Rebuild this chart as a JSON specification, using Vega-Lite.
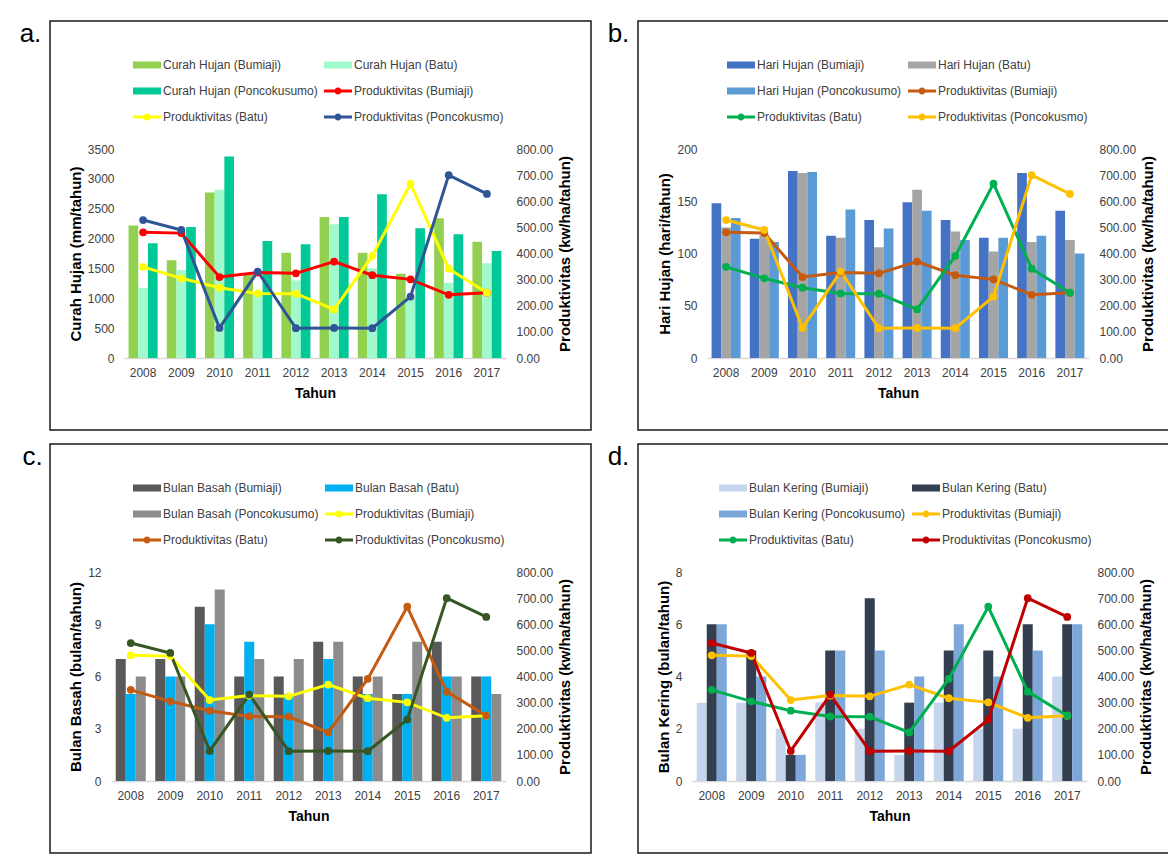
{
  "$schema": "https://vega.github.io/schema/vega-lite/v6.json",
  "padding": {"left": 18, "top": 20, "right": 0, "bottom": 0},
  "background": "#ffffff",
  "config": {
    "font": "Liberation Sans",
    "view": {"stroke": "#1a1a1a", "strokeWidth": 1.5},
    "axis": {"grid": false, "ticks": false, "domain": false, "labelFontSize": 12, "labelColor": "#404040", "titleFontWeight": "bold", "titleColor": "#000000", "labelFont": "Liberation Sans", "titleFont": "Liberation Sans"},
    "legend": {"orient": "none", "direction": "horizontal", "columns": 2, "labelFontSize": 12, "labelColor": "#404040", "symbolSize": 784, "columnPadding": 6, "rowPadding": 6, "labelOffset": 2, "padding": 0, "symbolStrokeWidth": 0},
    "title": {"font": "Liberation Sans", "fontSize": 26, "fontWeight": "normal", "color": "#000000"}
  },
  "datasets": {
    "prod": [
      {"Tahun": "2008", "Seri": "Produktivitas (Bumiaji)", "Nilai": 481},
      {"Tahun": "2009", "Seri": "Produktivitas (Bumiaji)", "Nilai": 478},
      {"Tahun": "2010", "Seri": "Produktivitas (Bumiaji)", "Nilai": 310},
      {"Tahun": "2011", "Seri": "Produktivitas (Bumiaji)", "Nilai": 327},
      {"Tahun": "2012", "Seri": "Produktivitas (Bumiaji)", "Nilai": 324},
      {"Tahun": "2013", "Seri": "Produktivitas (Bumiaji)", "Nilai": 369},
      {"Tahun": "2014", "Seri": "Produktivitas (Bumiaji)", "Nilai": 317},
      {"Tahun": "2015", "Seri": "Produktivitas (Bumiaji)", "Nilai": 301},
      {"Tahun": "2016", "Seri": "Produktivitas (Bumiaji)", "Nilai": 242},
      {"Tahun": "2017", "Seri": "Produktivitas (Bumiaji)", "Nilai": 250},
      {"Tahun": "2008", "Seri": "Produktivitas (Batu)", "Nilai": 349},
      {"Tahun": "2009", "Seri": "Produktivitas (Batu)", "Nilai": 305},
      {"Tahun": "2010", "Seri": "Produktivitas (Batu)", "Nilai": 269},
      {"Tahun": "2011", "Seri": "Produktivitas (Batu)", "Nilai": 247},
      {"Tahun": "2012", "Seri": "Produktivitas (Batu)", "Nilai": 246},
      {"Tahun": "2013", "Seri": "Produktivitas (Batu)", "Nilai": 186},
      {"Tahun": "2014", "Seri": "Produktivitas (Batu)", "Nilai": 391},
      {"Tahun": "2015", "Seri": "Produktivitas (Batu)", "Nilai": 667},
      {"Tahun": "2016", "Seri": "Produktivitas (Batu)", "Nilai": 342},
      {"Tahun": "2017", "Seri": "Produktivitas (Batu)", "Nilai": 250},
      {"Tahun": "2008", "Seri": "Produktivitas (Poncokusmo)", "Nilai": 528},
      {"Tahun": "2009", "Seri": "Produktivitas (Poncokusmo)", "Nilai": 490},
      {"Tahun": "2010", "Seri": "Produktivitas (Poncokusmo)", "Nilai": 115},
      {"Tahun": "2011", "Seri": "Produktivitas (Poncokusmo)", "Nilai": 331},
      {"Tahun": "2012", "Seri": "Produktivitas (Poncokusmo)", "Nilai": 114},
      {"Tahun": "2013", "Seri": "Produktivitas (Poncokusmo)", "Nilai": 115},
      {"Tahun": "2014", "Seri": "Produktivitas (Poncokusmo)", "Nilai": 114},
      {"Tahun": "2015", "Seri": "Produktivitas (Poncokusmo)", "Nilai": 235},
      {"Tahun": "2016", "Seri": "Produktivitas (Poncokusmo)", "Nilai": 700},
      {"Tahun": "2017", "Seri": "Produktivitas (Poncokusmo)", "Nilai": 628}
    ],
    "curah": [
      {"Tahun": "2008", "Seri": "Curah Hujan (Bumiaji)", "Nilai": 2217},
      {"Tahun": "2009", "Seri": "Curah Hujan (Bumiaji)", "Nilai": 1635},
      {"Tahun": "2010", "Seri": "Curah Hujan (Bumiaji)", "Nilai": 2772},
      {"Tahun": "2011", "Seri": "Curah Hujan (Bumiaji)", "Nilai": 1400},
      {"Tahun": "2012", "Seri": "Curah Hujan (Bumiaji)", "Nilai": 1764},
      {"Tahun": "2013", "Seri": "Curah Hujan (Bumiaji)", "Nilai": 2363},
      {"Tahun": "2014", "Seri": "Curah Hujan (Bumiaji)", "Nilai": 1764},
      {"Tahun": "2015", "Seri": "Curah Hujan (Bumiaji)", "Nilai": 1411},
      {"Tahun": "2016", "Seri": "Curah Hujan (Bumiaji)", "Nilai": 2340},
      {"Tahun": "2017", "Seri": "Curah Hujan (Bumiaji)", "Nilai": 1948},
      {"Tahun": "2008", "Seri": "Curah Hujan (Batu)", "Nilai": 1176},
      {"Tahun": "2009", "Seri": "Curah Hujan (Batu)", "Nilai": 1473},
      {"Tahun": "2010", "Seri": "Curah Hujan (Batu)", "Nilai": 2816},
      {"Tahun": "2011", "Seri": "Curah Hujan (Batu)", "Nilai": 1100},
      {"Tahun": "2012", "Seri": "Curah Hujan (Batu)", "Nilai": 1300},
      {"Tahun": "2013", "Seri": "Curah Hujan (Batu)", "Nilai": 2240},
      {"Tahun": "2014", "Seri": "Curah Hujan (Batu)", "Nilai": 1500},
      {"Tahun": "2015", "Seri": "Curah Hujan (Batu)", "Nilai": 1000},
      {"Tahun": "2016", "Seri": "Curah Hujan (Batu)", "Nilai": 1260},
      {"Tahun": "2017", "Seri": "Curah Hujan (Batu)", "Nilai": 1585},
      {"Tahun": "2008", "Seri": "Curah Hujan (Poncokusumo)", "Nilai": 1920},
      {"Tahun": "2009", "Seri": "Curah Hujan (Poncokusumo)", "Nilai": 2195},
      {"Tahun": "2010", "Seri": "Curah Hujan (Poncokusumo)", "Nilai": 3376},
      {"Tahun": "2011", "Seri": "Curah Hujan (Poncokusumo)", "Nilai": 1960},
      {"Tahun": "2012", "Seri": "Curah Hujan (Poncokusumo)", "Nilai": 1904},
      {"Tahun": "2013", "Seri": "Curah Hujan (Poncokusumo)", "Nilai": 2363},
      {"Tahun": "2014", "Seri": "Curah Hujan (Poncokusumo)", "Nilai": 2744},
      {"Tahun": "2015", "Seri": "Curah Hujan (Poncokusumo)", "Nilai": 2172},
      {"Tahun": "2016", "Seri": "Curah Hujan (Poncokusumo)", "Nilai": 2072},
      {"Tahun": "2017", "Seri": "Curah Hujan (Poncokusumo)", "Nilai": 1792}
    ],
    "hari": [
      {"Tahun": "2008", "Seri": "Hari Hujan (Bumiaji)", "Nilai": 148},
      {"Tahun": "2009", "Seri": "Hari Hujan (Bumiaji)", "Nilai": 114},
      {"Tahun": "2010", "Seri": "Hari Hujan (Bumiaji)", "Nilai": 179},
      {"Tahun": "2011", "Seri": "Hari Hujan (Bumiaji)", "Nilai": 117},
      {"Tahun": "2012", "Seri": "Hari Hujan (Bumiaji)", "Nilai": 132},
      {"Tahun": "2013", "Seri": "Hari Hujan (Bumiaji)", "Nilai": 149},
      {"Tahun": "2014", "Seri": "Hari Hujan (Bumiaji)", "Nilai": 132},
      {"Tahun": "2015", "Seri": "Hari Hujan (Bumiaji)", "Nilai": 115},
      {"Tahun": "2016", "Seri": "Hari Hujan (Bumiaji)", "Nilai": 177},
      {"Tahun": "2017", "Seri": "Hari Hujan (Bumiaji)", "Nilai": 141},
      {"Tahun": "2008", "Seri": "Hari Hujan (Batu)", "Nilai": 125},
      {"Tahun": "2009", "Seri": "Hari Hujan (Batu)", "Nilai": 118},
      {"Tahun": "2010", "Seri": "Hari Hujan (Batu)", "Nilai": 177},
      {"Tahun": "2011", "Seri": "Hari Hujan (Batu)", "Nilai": 115},
      {"Tahun": "2012", "Seri": "Hari Hujan (Batu)", "Nilai": 106},
      {"Tahun": "2013", "Seri": "Hari Hujan (Batu)", "Nilai": 161},
      {"Tahun": "2014", "Seri": "Hari Hujan (Batu)", "Nilai": 121},
      {"Tahun": "2015", "Seri": "Hari Hujan (Batu)", "Nilai": 102},
      {"Tahun": "2016", "Seri": "Hari Hujan (Batu)", "Nilai": 111},
      {"Tahun": "2017", "Seri": "Hari Hujan (Batu)", "Nilai": 113},
      {"Tahun": "2008", "Seri": "Hari Hujan (Poncokusumo)", "Nilai": 134},
      {"Tahun": "2009", "Seri": "Hari Hujan (Poncokusumo)", "Nilai": 111},
      {"Tahun": "2010", "Seri": "Hari Hujan (Poncokusumo)", "Nilai": 178},
      {"Tahun": "2011", "Seri": "Hari Hujan (Poncokusumo)", "Nilai": 142},
      {"Tahun": "2012", "Seri": "Hari Hujan (Poncokusumo)", "Nilai": 124},
      {"Tahun": "2013", "Seri": "Hari Hujan (Poncokusumo)", "Nilai": 141},
      {"Tahun": "2014", "Seri": "Hari Hujan (Poncokusumo)", "Nilai": 113},
      {"Tahun": "2015", "Seri": "Hari Hujan (Poncokusumo)", "Nilai": 115},
      {"Tahun": "2016", "Seri": "Hari Hujan (Poncokusumo)", "Nilai": 117},
      {"Tahun": "2017", "Seri": "Hari Hujan (Poncokusumo)", "Nilai": 100}
    ],
    "basah": [
      {"Tahun": "2008", "Seri": "Bulan Basah (Bumiaji)", "Nilai": 7},
      {"Tahun": "2009", "Seri": "Bulan Basah (Bumiaji)", "Nilai": 7},
      {"Tahun": "2010", "Seri": "Bulan Basah (Bumiaji)", "Nilai": 10},
      {"Tahun": "2011", "Seri": "Bulan Basah (Bumiaji)", "Nilai": 6},
      {"Tahun": "2012", "Seri": "Bulan Basah (Bumiaji)", "Nilai": 6},
      {"Tahun": "2013", "Seri": "Bulan Basah (Bumiaji)", "Nilai": 8},
      {"Tahun": "2014", "Seri": "Bulan Basah (Bumiaji)", "Nilai": 6},
      {"Tahun": "2015", "Seri": "Bulan Basah (Bumiaji)", "Nilai": 5},
      {"Tahun": "2016", "Seri": "Bulan Basah (Bumiaji)", "Nilai": 8},
      {"Tahun": "2017", "Seri": "Bulan Basah (Bumiaji)", "Nilai": 6},
      {"Tahun": "2008", "Seri": "Bulan Basah (Batu)", "Nilai": 5},
      {"Tahun": "2009", "Seri": "Bulan Basah (Batu)", "Nilai": 6},
      {"Tahun": "2010", "Seri": "Bulan Basah (Batu)", "Nilai": 9},
      {"Tahun": "2011", "Seri": "Bulan Basah (Batu)", "Nilai": 8},
      {"Tahun": "2012", "Seri": "Bulan Basah (Batu)", "Nilai": 5},
      {"Tahun": "2013", "Seri": "Bulan Basah (Batu)", "Nilai": 7},
      {"Tahun": "2014", "Seri": "Bulan Basah (Batu)", "Nilai": 5},
      {"Tahun": "2015", "Seri": "Bulan Basah (Batu)", "Nilai": 5},
      {"Tahun": "2016", "Seri": "Bulan Basah (Batu)", "Nilai": 6},
      {"Tahun": "2017", "Seri": "Bulan Basah (Batu)", "Nilai": 6},
      {"Tahun": "2008", "Seri": "Bulan Basah (Poncokusumo)", "Nilai": 6},
      {"Tahun": "2009", "Seri": "Bulan Basah (Poncokusumo)", "Nilai": 6},
      {"Tahun": "2010", "Seri": "Bulan Basah (Poncokusumo)", "Nilai": 11},
      {"Tahun": "2011", "Seri": "Bulan Basah (Poncokusumo)", "Nilai": 7},
      {"Tahun": "2012", "Seri": "Bulan Basah (Poncokusumo)", "Nilai": 7},
      {"Tahun": "2013", "Seri": "Bulan Basah (Poncokusumo)", "Nilai": 8},
      {"Tahun": "2014", "Seri": "Bulan Basah (Poncokusumo)", "Nilai": 6},
      {"Tahun": "2015", "Seri": "Bulan Basah (Poncokusumo)", "Nilai": 8},
      {"Tahun": "2016", "Seri": "Bulan Basah (Poncokusumo)", "Nilai": 6},
      {"Tahun": "2017", "Seri": "Bulan Basah (Poncokusumo)", "Nilai": 5}
    ],
    "kering": [
      {"Tahun": "2008", "Seri": "Bulan Kering (Bumiaji)", "Nilai": 3},
      {"Tahun": "2009", "Seri": "Bulan Kering (Bumiaji)", "Nilai": 3},
      {"Tahun": "2010", "Seri": "Bulan Kering (Bumiaji)", "Nilai": 2},
      {"Tahun": "2011", "Seri": "Bulan Kering (Bumiaji)", "Nilai": 3},
      {"Tahun": "2012", "Seri": "Bulan Kering (Bumiaji)", "Nilai": 2},
      {"Tahun": "2013", "Seri": "Bulan Kering (Bumiaji)", "Nilai": 1},
      {"Tahun": "2014", "Seri": "Bulan Kering (Bumiaji)", "Nilai": 3},
      {"Tahun": "2015", "Seri": "Bulan Kering (Bumiaji)", "Nilai": 2},
      {"Tahun": "2016", "Seri": "Bulan Kering (Bumiaji)", "Nilai": 2},
      {"Tahun": "2017", "Seri": "Bulan Kering (Bumiaji)", "Nilai": 4},
      {"Tahun": "2008", "Seri": "Bulan Kering (Batu)", "Nilai": 6},
      {"Tahun": "2009", "Seri": "Bulan Kering (Batu)", "Nilai": 5},
      {"Tahun": "2010", "Seri": "Bulan Kering (Batu)", "Nilai": 1},
      {"Tahun": "2011", "Seri": "Bulan Kering (Batu)", "Nilai": 5},
      {"Tahun": "2012", "Seri": "Bulan Kering (Batu)", "Nilai": 7},
      {"Tahun": "2013", "Seri": "Bulan Kering (Batu)", "Nilai": 3},
      {"Tahun": "2014", "Seri": "Bulan Kering (Batu)", "Nilai": 5},
      {"Tahun": "2015", "Seri": "Bulan Kering (Batu)", "Nilai": 5},
      {"Tahun": "2016", "Seri": "Bulan Kering (Batu)", "Nilai": 6},
      {"Tahun": "2017", "Seri": "Bulan Kering (Batu)", "Nilai": 6},
      {"Tahun": "2008", "Seri": "Bulan Kering (Poncokusumo)", "Nilai": 6},
      {"Tahun": "2009", "Seri": "Bulan Kering (Poncokusumo)", "Nilai": 4},
      {"Tahun": "2010", "Seri": "Bulan Kering (Poncokusumo)", "Nilai": 1},
      {"Tahun": "2011", "Seri": "Bulan Kering (Poncokusumo)", "Nilai": 5},
      {"Tahun": "2012", "Seri": "Bulan Kering (Poncokusumo)", "Nilai": 5},
      {"Tahun": "2013", "Seri": "Bulan Kering (Poncokusumo)", "Nilai": 4},
      {"Tahun": "2014", "Seri": "Bulan Kering (Poncokusumo)", "Nilai": 6},
      {"Tahun": "2015", "Seri": "Bulan Kering (Poncokusumo)", "Nilai": 4},
      {"Tahun": "2016", "Seri": "Bulan Kering (Poncokusumo)", "Nilai": 5},
      {"Tahun": "2017", "Seri": "Bulan Kering (Poncokusumo)", "Nilai": 6}
    ]
  },
  "columns": 2,
  "spacing": {"row": 12, "column": 14},
  "resolve": {"scale": {"color": "independent", "x": "independent", "y": "independent", "xOffset": "independent"}, "legend": {"color": "independent"}},
  "concat": [
    {
      "title": {"text": "a.", "orient": "left", "anchor": "end", "angle": 0, "align": "right", "baseline": "top", "offset": -13},
      "width": 541, "height": 409,
      "layer": [
        {
          "data": {"name": "curah"},
          "mark": {"type": "bar"},
          "encoding": {
            "x": {"field": "Tahun", "type": "nominal", "scale": {"range": [74, 456], "paddingInner": 0.24, "paddingOuter": 0.12}, "axis": {"orient": "bottom", "offset": -72, "domain": true, "domainColor": "#D9D9D9", "domainWidth": 1.5, "labelAngle": 0, "labelPadding": 9, "title": "Tahun", "titleFontSize": 14, "titlePadding": 8}},
            "xOffset": {"field": "Seri", "type": "nominal", "scale": {"domain": ["Curah Hujan (Bumiaji)", "Curah Hujan (Batu)", "Curah Hujan (Poncokusumo)"], "paddingInner": 0}},
            "y": {"field": "Nilai", "type": "quantitative", "scale": {"domain": [0, 3500], "range": [337, 128], "nice": false}, "axis": {"orient": "left", "offset": -74, "values": [0, 500, 1000, 1500, 2000, 2500, 3000, 3500], "format": "d", "labelPadding": 10, "title": "Curah Hujan (mm/tahun)", "titleFontSize": 15, "titlePadding": 4}},
            "color": {"field": "Seri", "type": "nominal",
              "scale": {"domain": ["Curah Hujan (Bumiaji)", "Curah Hujan (Batu)", "Curah Hujan (Poncokusumo)", "Produktivitas (Bumiaji)", "Produktivitas (Batu)", "Produktivitas (Poncokusmo)"], "range": ["#92D050", "#A0FACC", "#00C896", "#FF0000", "#FFFF00", "#2F5597"]},
              "legend": {"title": null, "legendX": 83, "legendY": 30, "encode": {"symbols": {"update": {"shape": {"signal": "indexof(datum.value, 'Produktivitas') === 0 ? 'M-1,-0.1H1V0.1H-1Z M0.25,0A0.25,0.25 0 1,1 -0.25,0A0.25,0.25 0 1,1 0.25,0Z' : 'M-1,-0.25H1V0.25H-1Z'"}, "strokeWidth": {"value": 0}}}}}}
          }
        },
        {
          "data": {"name": "prod"},
          "mark": {"type": "line", "strokeWidth": 3, "point": {"filled": true, "size": 60}},
          "encoding": {
            "x": {"field": "Tahun", "type": "nominal"},
            "y": {"field": "Nilai", "type": "quantitative", "scale": {"domain": [0, 800], "range": [337, 128], "nice": false}, "axis": {"orient": "right", "offset": -85, "values": [0, 100, 200, 300, 400, 500, 600, 700, 800], "format": ".2f", "labelPadding": 10, "title": "Produktivitas (kw/ha/tahun)", "titleFontSize": 15, "titleAngle": 270, "titleBaseline": "top", "titlePadding": 5}},
            "color": {"field": "Seri", "type": "nominal", "legend": null}
          }
        }
      ],
      "resolve": {"scale": {"y": "independent"}}
    },
    {
      "title": {"text": "b.", "orient": "left", "anchor": "end", "angle": 0, "align": "right", "baseline": "top", "offset": -13},
      "width": 534, "height": 409,
      "layer": [
        {
          "data": {"name": "hari"},
          "mark": {"type": "bar"},
          "encoding": {
            "x": {"field": "Tahun", "type": "nominal", "scale": {"range": [69, 451], "paddingInner": 0.24, "paddingOuter": 0.12}, "axis": {"orient": "bottom", "offset": -72, "domain": true, "domainColor": "#D9D9D9", "domainWidth": 1.5, "labelAngle": 0, "labelPadding": 9, "title": "Tahun", "titleFontSize": 14, "titlePadding": 8}},
            "xOffset": {"field": "Seri", "type": "nominal", "scale": {"domain": ["Hari Hujan (Bumiaji)", "Hari Hujan (Batu)", "Hari Hujan (Poncokusumo)"], "paddingInner": 0}},
            "y": {"field": "Nilai", "type": "quantitative", "scale": {"domain": [0, 200], "range": [337, 128], "nice": false}, "axis": {"orient": "left", "offset": -69, "values": [0, 50, 100, 150, 200], "labelPadding": 10, "title": "Hari Hujan (hari/tahun)", "titleFontSize": 15, "titlePadding": 4}},
            "color": {"field": "Seri", "type": "nominal",
              "scale": {"domain": ["Hari Hujan (Bumiaji)", "Hari Hujan (Batu)", "Hari Hujan (Poncokusumo)", "Produktivitas (Bumiaji)", "Produktivitas (Batu)", "Produktivitas (Poncokusmo)"], "range": ["#4472C4", "#A5A5A5", "#5B9BD5", "#C55A11", "#00B050", "#FFC000"]},
              "legend": {"title": null, "legendX": 89, "legendY": 30, "encode": {"symbols": {"update": {"shape": {"signal": "indexof(datum.value, 'Produktivitas') === 0 ? 'M-1,-0.1H1V0.1H-1Z M0.25,0A0.25,0.25 0 1,1 -0.25,0A0.25,0.25 0 1,1 0.25,0Z' : 'M-1,-0.25H1V0.25H-1Z'"}, "strokeWidth": {"value": 0}}}}}}
          }
        },
        {
          "data": {"name": "prod"},
          "mark": {"type": "line", "strokeWidth": 3, "point": {"filled": true, "size": 60}},
          "encoding": {
            "x": {"field": "Tahun", "type": "nominal"},
            "y": {"field": "Nilai", "type": "quantitative", "scale": {"domain": [0, 800], "range": [337, 128], "nice": false}, "axis": {"orient": "right", "offset": -83, "values": [0, 100, 200, 300, 400, 500, 600, 700, 800], "format": ".2f", "labelPadding": 10, "title": "Produktivitas (kw/ha/tahun)", "titleFontSize": 15, "titleAngle": 270, "titleBaseline": "top", "titlePadding": 5}},
            "color": {"field": "Seri", "type": "nominal", "legend": null}
          }
        }
      ],
      "resolve": {"scale": {"y": "independent"}}
    },
    {
      "title": {"text": "c.", "orient": "left", "anchor": "end", "angle": 0, "align": "right", "baseline": "top", "offset": -13},
      "width": 541, "height": 409,
      "layer": [
        {
          "data": {"name": "basah"},
          "mark": {"type": "bar"},
          "encoding": {
            "x": {"field": "Tahun", "type": "nominal", "scale": {"range": [61, 456], "paddingInner": 0.24, "paddingOuter": 0.12}, "axis": {"orient": "bottom", "offset": -72, "domain": true, "domainColor": "#D9D9D9", "domainWidth": 1.5, "labelAngle": 0, "labelPadding": 9, "title": "Tahun", "titleFontSize": 14, "titlePadding": 8}},
            "xOffset": {"field": "Seri", "type": "nominal", "scale": {"domain": ["Bulan Basah (Bumiaji)", "Bulan Basah (Batu)", "Bulan Basah (Poncokusumo)"], "paddingInner": 0}},
            "y": {"field": "Nilai", "type": "quantitative", "scale": {"domain": [0, 12], "range": [337, 128], "nice": false}, "axis": {"orient": "left", "offset": -61, "values": [0, 3, 6, 9, 12], "labelPadding": 10, "title": "Bulan Basah (bulan/tahun)", "titleFontSize": 15, "titlePadding": 4}},
            "color": {"field": "Seri", "type": "nominal",
              "scale": {"domain": ["Bulan Basah (Bumiaji)", "Bulan Basah (Batu)", "Bulan Basah (Poncokusumo)", "Produktivitas (Bumiaji)", "Produktivitas (Batu)", "Produktivitas (Poncokusmo)"], "range": ["#595959", "#00B0F0", "#8C8C8C", "#FFFF00", "#C55A11", "#375623"]},
              "legend": {"title": null, "legendX": 83, "legendY": 30, "encode": {"symbols": {"update": {"shape": {"signal": "indexof(datum.value, 'Produktivitas') === 0 ? 'M-1,-0.1H1V0.1H-1Z M0.25,0A0.25,0.25 0 1,1 -0.25,0A0.25,0.25 0 1,1 0.25,0Z' : 'M-1,-0.25H1V0.25H-1Z'"}, "strokeWidth": {"value": 0}}}}}}
          }
        },
        {
          "data": {"name": "prod"},
          "mark": {"type": "line", "strokeWidth": 3, "point": {"filled": true, "size": 60}},
          "encoding": {
            "x": {"field": "Tahun", "type": "nominal"},
            "y": {"field": "Nilai", "type": "quantitative", "scale": {"domain": [0, 800], "range": [337, 128], "nice": false}, "axis": {"orient": "right", "offset": -85, "values": [0, 100, 200, 300, 400, 500, 600, 700, 800], "format": ".2f", "labelPadding": 10, "title": "Produktivitas (kw/ha/tahun)", "titleFontSize": 15, "titleAngle": 270, "titleBaseline": "top", "titlePadding": 5}},
            "color": {"field": "Seri", "type": "nominal", "legend": null}
          }
        }
      ],
      "resolve": {"scale": {"y": "independent"}}
    },
    {
      "title": {"text": "d.", "orient": "left", "anchor": "end", "angle": 0, "align": "right", "baseline": "top", "offset": -13},
      "width": 534, "height": 409,
      "layer": [
        {
          "data": {"name": "kering"},
          "mark": {"type": "bar"},
          "encoding": {
            "x": {"field": "Tahun", "type": "nominal", "scale": {"range": [54, 449], "paddingInner": 0.24, "paddingOuter": 0.12}, "axis": {"orient": "bottom", "offset": -72, "domain": true, "domainColor": "#D9D9D9", "domainWidth": 1.5, "labelAngle": 0, "labelPadding": 9, "title": "Tahun", "titleFontSize": 14, "titlePadding": 8}},
            "xOffset": {"field": "Seri", "type": "nominal", "scale": {"domain": ["Bulan Kering (Bumiaji)", "Bulan Kering (Batu)", "Bulan Kering (Poncokusumo)"], "paddingInner": 0}},
            "y": {"field": "Nilai", "type": "quantitative", "scale": {"domain": [0, 8], "range": [337, 128], "nice": false}, "axis": {"orient": "left", "offset": -54, "values": [0, 2, 4, 6, 8], "labelPadding": 10, "title": "Bulan Kering (bulan/tahun)", "titleFontSize": 15, "titlePadding": 4}},
            "color": {"field": "Seri", "type": "nominal",
              "scale": {"domain": ["Bulan Kering (Bumiaji)", "Bulan Kering (Batu)", "Bulan Kering (Poncokusumo)", "Produktivitas (Bumiaji)", "Produktivitas (Batu)", "Produktivitas (Poncokusmo)"], "range": ["#C5D5EC", "#333F50", "#7DA7D9", "#FFC000", "#00B050", "#C00000"]},
              "legend": {"title": null, "legendX": 81, "legendY": 30, "encode": {"symbols": {"update": {"shape": {"signal": "indexof(datum.value, 'Produktivitas') === 0 ? 'M-1,-0.1H1V0.1H-1Z M0.25,0A0.25,0.25 0 1,1 -0.25,0A0.25,0.25 0 1,1 0.25,0Z' : 'M-1,-0.25H1V0.25H-1Z'"}, "strokeWidth": {"value": 0}}}}}}
          }
        },
        {
          "data": {"name": "prod"},
          "mark": {"type": "line", "strokeWidth": 3, "point": {"filled": true, "size": 60}},
          "encoding": {
            "x": {"field": "Tahun", "type": "nominal"},
            "y": {"field": "Nilai", "type": "quantitative", "scale": {"domain": [0, 800], "range": [337, 128], "nice": false}, "axis": {"orient": "right", "offset": -85, "values": [0, 100, 200, 300, 400, 500, 600, 700, 800], "format": ".2f", "labelPadding": 10, "title": "Produktivitas (kw/ha/tahun)", "titleFontSize": 15, "titleAngle": 270, "titleBaseline": "top", "titlePadding": 5}},
            "color": {"field": "Seri", "type": "nominal", "legend": null}
          }
        }
      ],
      "resolve": {"scale": {"y": "independent"}}
    }
  ]
}
